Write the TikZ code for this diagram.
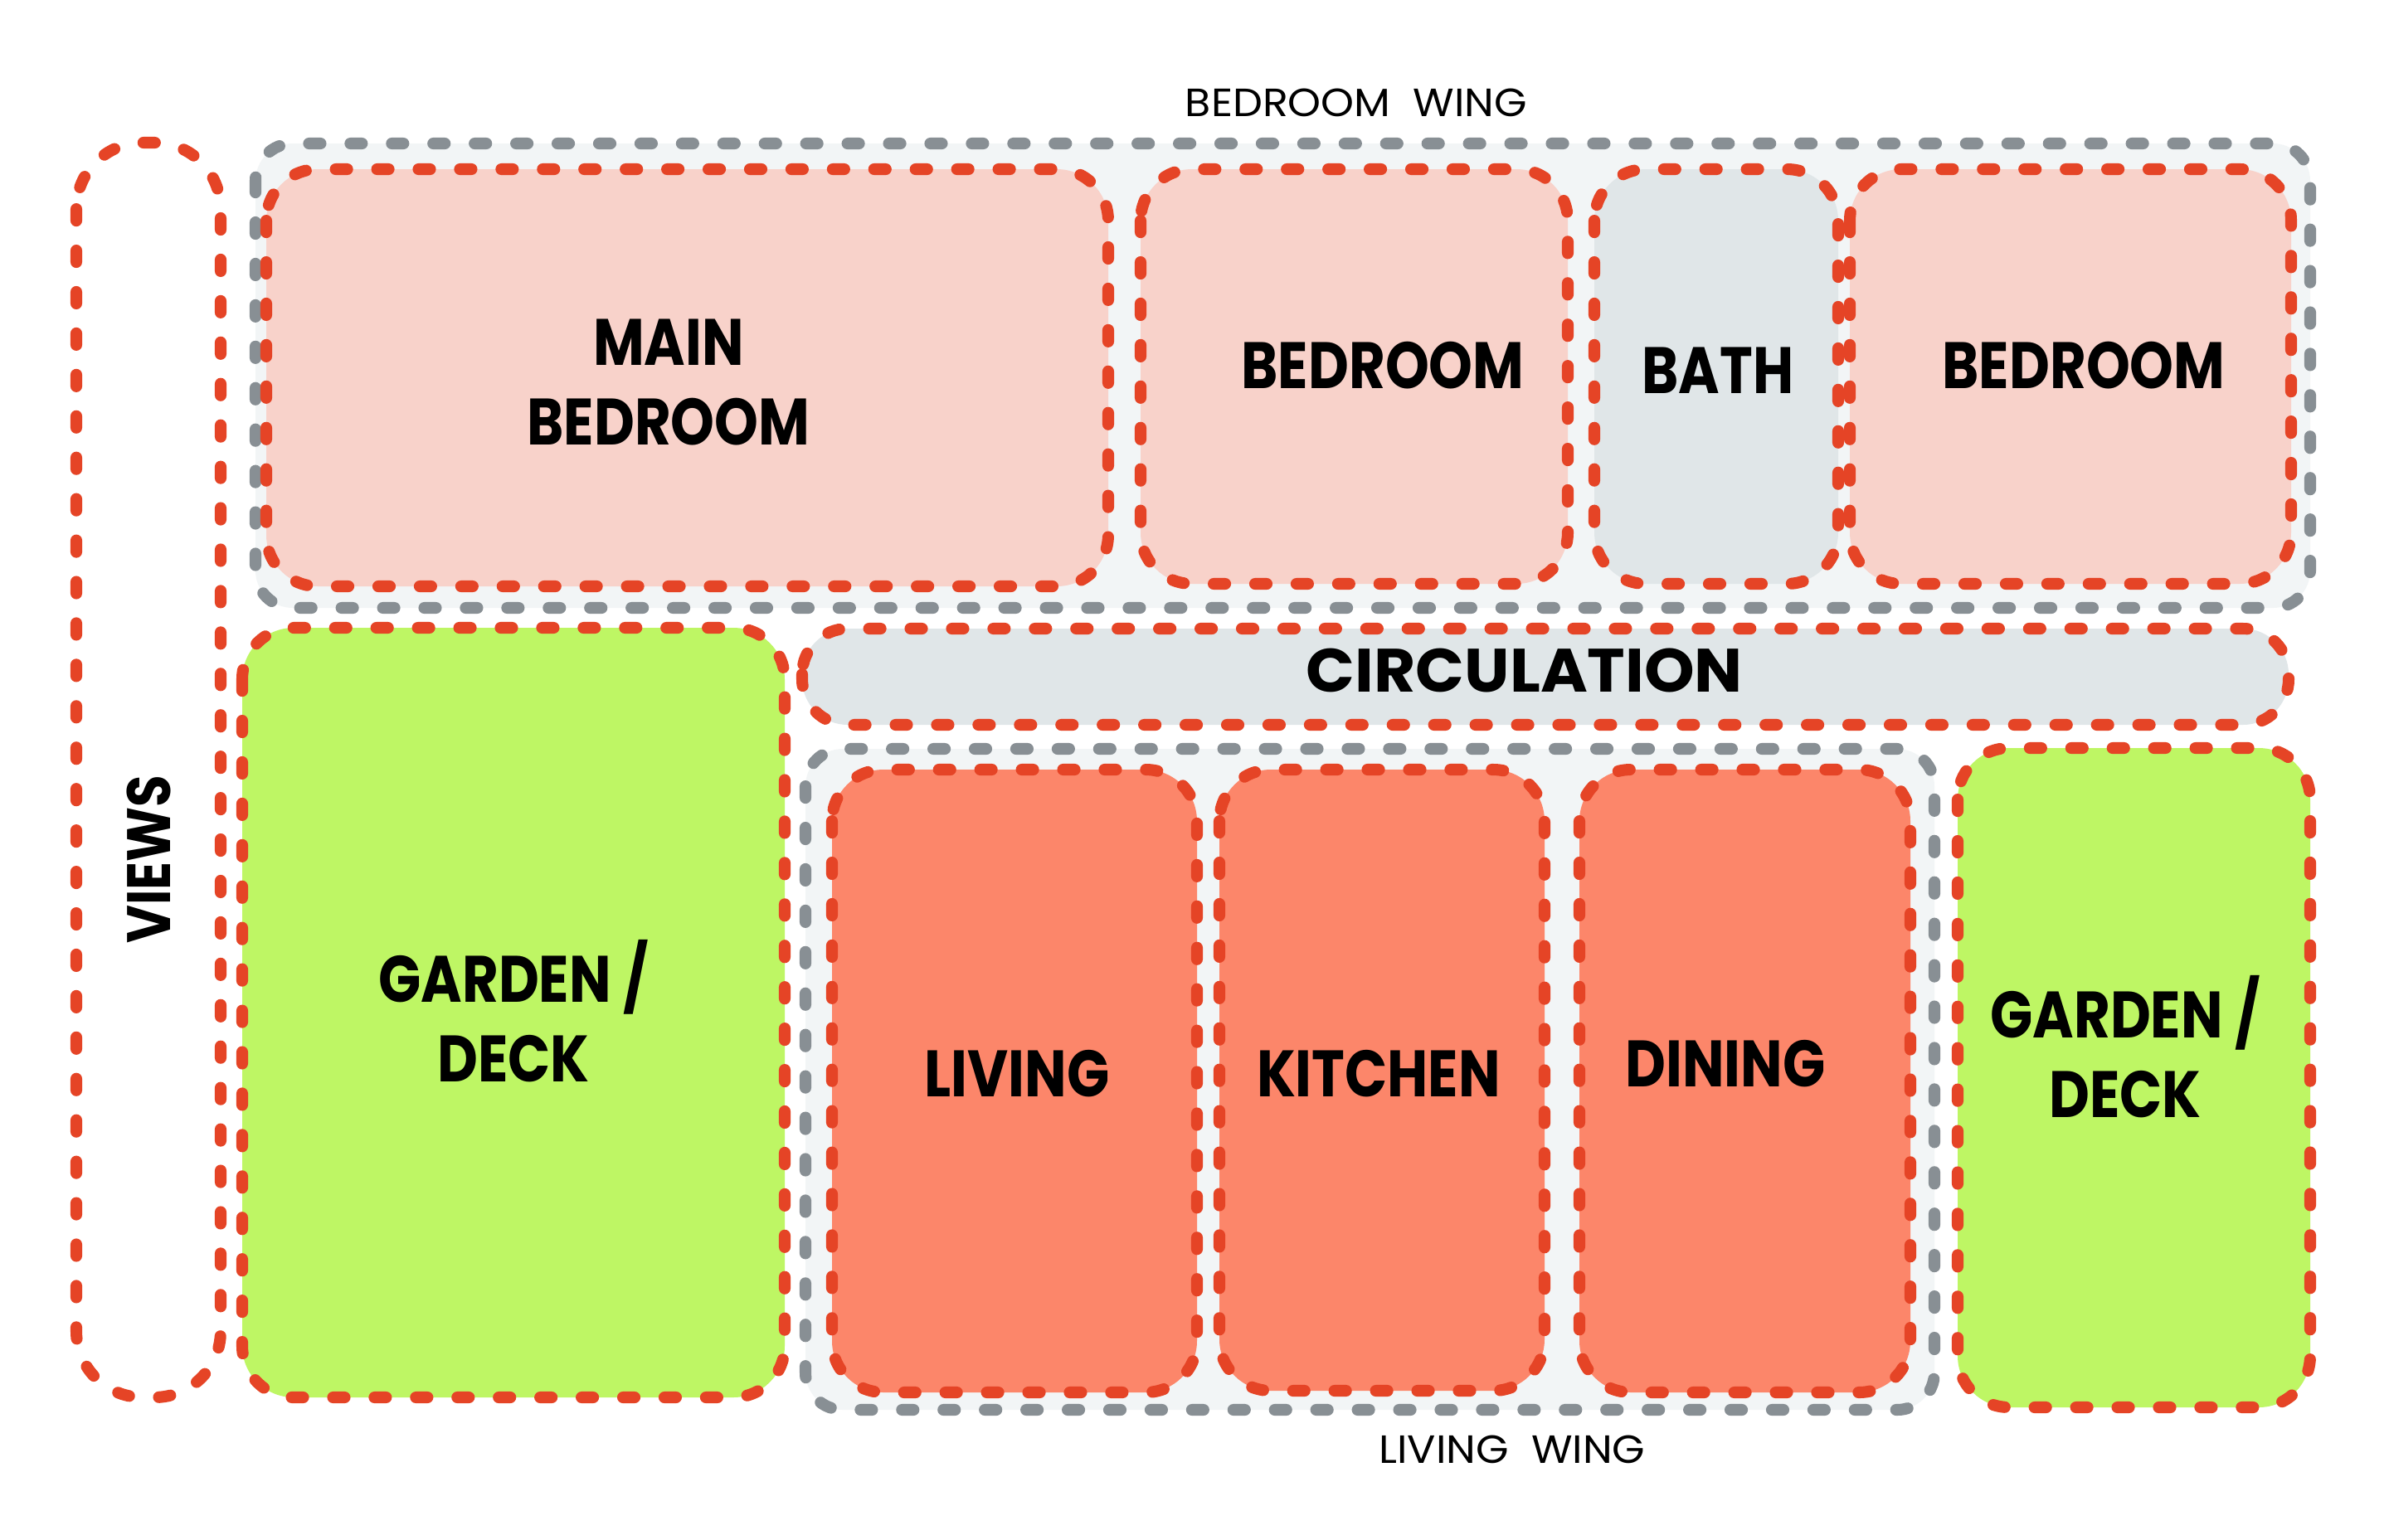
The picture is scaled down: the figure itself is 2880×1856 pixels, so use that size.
\documentclass[tikz,border=0pt]{standalone}
\usepackage{fontspec}
\setmainfont{Poppins}
\usepackage{xcolor}
\usetikzlibrary{positioning,backgrounds}

\definecolor{dashred}{RGB}{229,68,38}
\definecolor{dashgray}{RGB}{136,143,148}
\definecolor{bedpink}{RGB}{248,210,202}
\definecolor{servgray}{RGB}{224,230,232}
\definecolor{livesalmon}{RGB}{252,134,106}
\definecolor{gardengreen}{RGB}{190,246,100}
\definecolor{wingtint}{RGB}{242,245,246}

\begin{document}
\begin{tikzpicture}[
    x=0.01cm, y=-0.01cm,
    line cap=round,
    zone/.style={draw=dashred, line width=4pt, dash pattern=on 4pt off 10.2pt},
    wing/.style={draw=dashgray, fill=wingtint, line width=4pt, dash pattern=on 4pt off 10.2pt, rounded corners=0.45cm},
    room/.style={zone, fill=#1, rounded corners=0.62cm},
    roomname/.style={font=\fontsize{22.5}{27.3}\selectfont\bfseries, align=center, xscale=0.85, inner sep=0},
    winglabel/.style={font=\fontsize{13.5}{16}\selectfont, xscale=1.07, inner sep=0}]

\useasboundingbox[fill=white] (0,0) rectangle (2880,1856);

\path[wing] (308,173) rectangle (2785,733);
\path[wing] (971,903) rectangle (2332,1700);

\path[zone, fill=white, rounded corners=0.8cm] (92,172) rectangle (266,1685);
\path[room=bedpink] (321,204) rectangle (1336,707);
\path[room=bedpink] (1375,204) rectangle (1890,704);
\path[room=servgray] (1922,204) rectangle (2216,704);
\path[room=bedpink] (2230,204) rectangle (2762,704);
\path[room=gardengreen] (292,757) rectangle (946,1685);
\path[room=servgray, rounded corners=0.55cm] (967,758) rectangle (2759,874);
\path[room=livesalmon] (1003,928) rectangle (1443,1679);
\path[room=livesalmon] (1470,928) rectangle (1862,1677);
\path[room=livesalmon] (1904,928) rectangle (2303,1679);
\path[room=gardengreen] (2360,902) rectangle (2785,1697);

\node[winglabel] (bedwing) at (1635,124) {BEDROOM\ \ WING};
\node[winglabel] (livwing) at (1823,1748) {LIVING\ \ WING};

\node[roomname] (mainbed) at (806,461) {MAIN\\BEDROOM};
\node[roomname] (bedone) at (1667,441) {BEDROOM};
\node[roomname] (bath) at (2071,447) {BATH};
\node[roomname] (bedtwo) at (2512,441) {BEDROOM};
\node[roomname, font=\fontsize{21}{24}\selectfont\bfseries, xscale=1.23] (circ) at (1838,808) {CIRCULATION};
\node[font=\fontsize{21}{24}\selectfont\bfseries, inner sep=0, yscale=0.85, rotate=90] (views) at (179,1036) {VIEWS};
\node[roomname] (gardenwest) at (619,1219) {GARDEN /\\DECK};
\node[roomname] (living) at (1226,1295) {LIVING};
\node[roomname] (kitchen) at (1662,1295) {KITCHEN};
\node[roomname] (dining) at (2080,1283) {DINING};
\node[roomname] (gardeneast) at (2562,1262) {GARDEN /\\DECK};

\end{tikzpicture}
\end{document}
